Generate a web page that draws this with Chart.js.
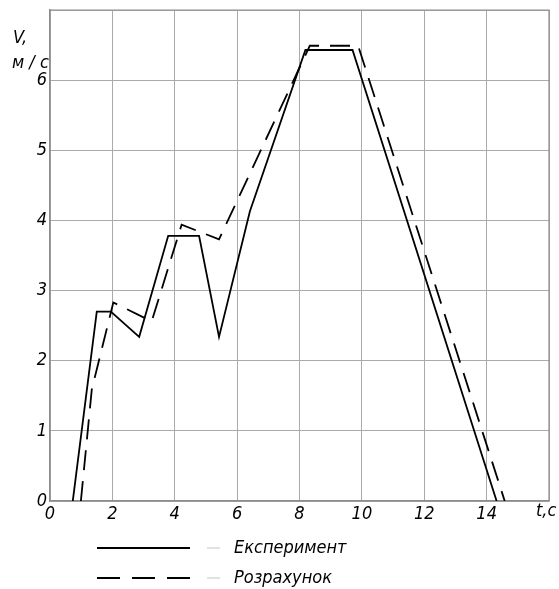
<!DOCTYPE html>
<html lang="uk">
<head>
<meta charset="utf-8">
<title>V(t)</title>
<script src="https://cdn.jsdelivr.net/npm/chart.js@4.4.1/dist/chart.umd.min.js"></script>
<style>
  html, body { margin: 0; padding: 0; background: #fff; }
  #wrap { position: relative; width: 559px; height: 589px; }
</style>
</head>
<body>
<div id="wrap"><canvas id="speedChart" width="559" height="589"></canvas></div>
<script>
// V(t) chart: experiment vs calculation

const FONT = "'DejaVu Sans Condensed', 'DejaVu Sans', sans-serif";

// Експеримент
const tExp = [0.73, 1.5, 1.95, 2.86, 3.79, 4.78, 5.42, 6.41, 8.19, 9.7, 14.32];
const vExp = [0, 2.7, 2.7, 2.34, 3.78, 3.78, 2.34, 4.13, 6.43, 6.43, 0];

// Розрахунок
const tCalc = [0.99, 1.34, 2.03, 3.26, 4.22, 5.42, 8.33, 9.88, 14.58];
const vCalc = [0, 1.59, 2.83, 2.56, 3.94, 3.73, 6.49, 6.49, 0];

const xTicks = ['0', '2', '4', '6', '8', '10', '12', '14'];
const yTicks = ['0', '1', '2', '3', '4', '5', '6'];
const seriesNames = ['Експеримент', 'Розрахунок'];

function toPoints(ts, vs) {
  return ts.map((t, i) => ({ x: t, y: vs[i] }));
}

// axis titles + legend drawn on canvas
const extrasPlugin = {
  id: 'extras',
  afterDraw(chart) {
    const ctx = chart.ctx;
    ctx.save();
    ctx.fillStyle = '#000';
    ctx.font = 'italic 18px ' + FONT;
    ctx.textBaseline = 'middle';
    ctx.textAlign = 'left';
    ctx.fillText('V,', 13, 38);
    ctx.fillText('м / с', 12, 63);
    ctx.fillText('t,c', 536, 511);

    const rows = [
      { y: 548, dash: [], label: seriesNames[0] },
      { y: 578, dash: [23, 12], label: seriesNames[1] }
    ];
    rows.forEach(r => {
      ctx.strokeStyle = '#000';
      ctx.lineWidth = 1.8;
      ctx.setLineDash(r.dash);
      ctx.beginPath();
      ctx.moveTo(97, r.y);
      ctx.lineTo(190, r.y);
      ctx.stroke();
      ctx.setLineDash([]);
      ctx.strokeStyle = '#c4c4c4';
      ctx.lineWidth = 1;
      ctx.beginPath();
      ctx.moveTo(207, r.y);
      ctx.lineTo(220, r.y);
      ctx.stroke();
      ctx.fillStyle = '#000';
      ctx.font = 'italic 18px ' + FONT;
      ctx.fillText(r.label, 234, r.y);
    });
    ctx.restore();
  }
};

// top and right frame lines
const framePlugin = {
  id: 'frame',
  afterDatasetsDraw(c) {
    const a = c.chartArea;
    c.ctx.save();
    c.ctx.strokeStyle = '#8c8c8c';
    c.ctx.lineWidth = 1.2;
    c.ctx.beginPath();
    c.ctx.moveTo(a.left, a.top);
    c.ctx.lineTo(a.right, a.top);
    c.ctx.lineTo(a.right, a.bottom);
    c.ctx.stroke();
    c.ctx.restore();
  }
};

const ctx = document.getElementById('speedChart').getContext('2d');
const chart = new Chart(ctx, {
  type: 'line',
  data: {
    datasets: [
      {
        label: seriesNames[0],
        data: toPoints(tExp, vExp),
        borderColor: '#000',
        borderWidth: 1.8,
        pointRadius: 0,
        tension: 0
      },
      {
        label: seriesNames[1],
        data: toPoints(tCalc, vCalc),
        borderColor: '#000',
        borderWidth: 1.8,
        borderDash: [20, 11],
        pointRadius: 0,
        tension: 0
      }
    ]
  },
  options: {
    responsive: false,
    animation: false,
    layout: { padding: { top: 10, right: 10, bottom: 58, left: 0 } },
    plugins: {
      legend: { display: false },
      tooltip: { enabled: false }
    },
    scales: {
      x: {
        type: 'linear',
        min: 0,
        max: 16,
        ticks: {
          stepSize: 2,
          padding: 3,
          maxRotation: 0,
          color: '#000',
          font: { family: FONT, size: 18, style: 'italic' },
          callback: (v, i) => xTicks[i] !== undefined ? xTicks[i] : ''
        },
        grid: { color: '#aaaaaa', lineWidth: 1, drawTicks: false },
        border: { color: '#8c8c8c', width: 1.5 },
        afterFit: (scale) => {
          scale.height = 30;
          scale.paddingLeft = 0;
          scale.paddingRight = 0;
        }
      },
      y: {
        min: 0,
        max: 7,
        ticks: {
          stepSize: 1,
          padding: 3,
          color: '#000',
          font: { family: FONT, size: 18, style: 'italic' },
          callback: (v, i) => yTicks[i] !== undefined ? yTicks[i] : ''
        },
        grid: { color: '#aaaaaa', lineWidth: 1, drawTicks: false },
        border: { color: '#8c8c8c', width: 1.5 },
        afterFit: (scale) => {
          scale.width = 50;
          scale.paddingTop = 0;
          scale.paddingBottom = 0;
        }
      }
    }
  },
  plugins: [extrasPlugin, framePlugin]
});
</script>
</body>
</html>
